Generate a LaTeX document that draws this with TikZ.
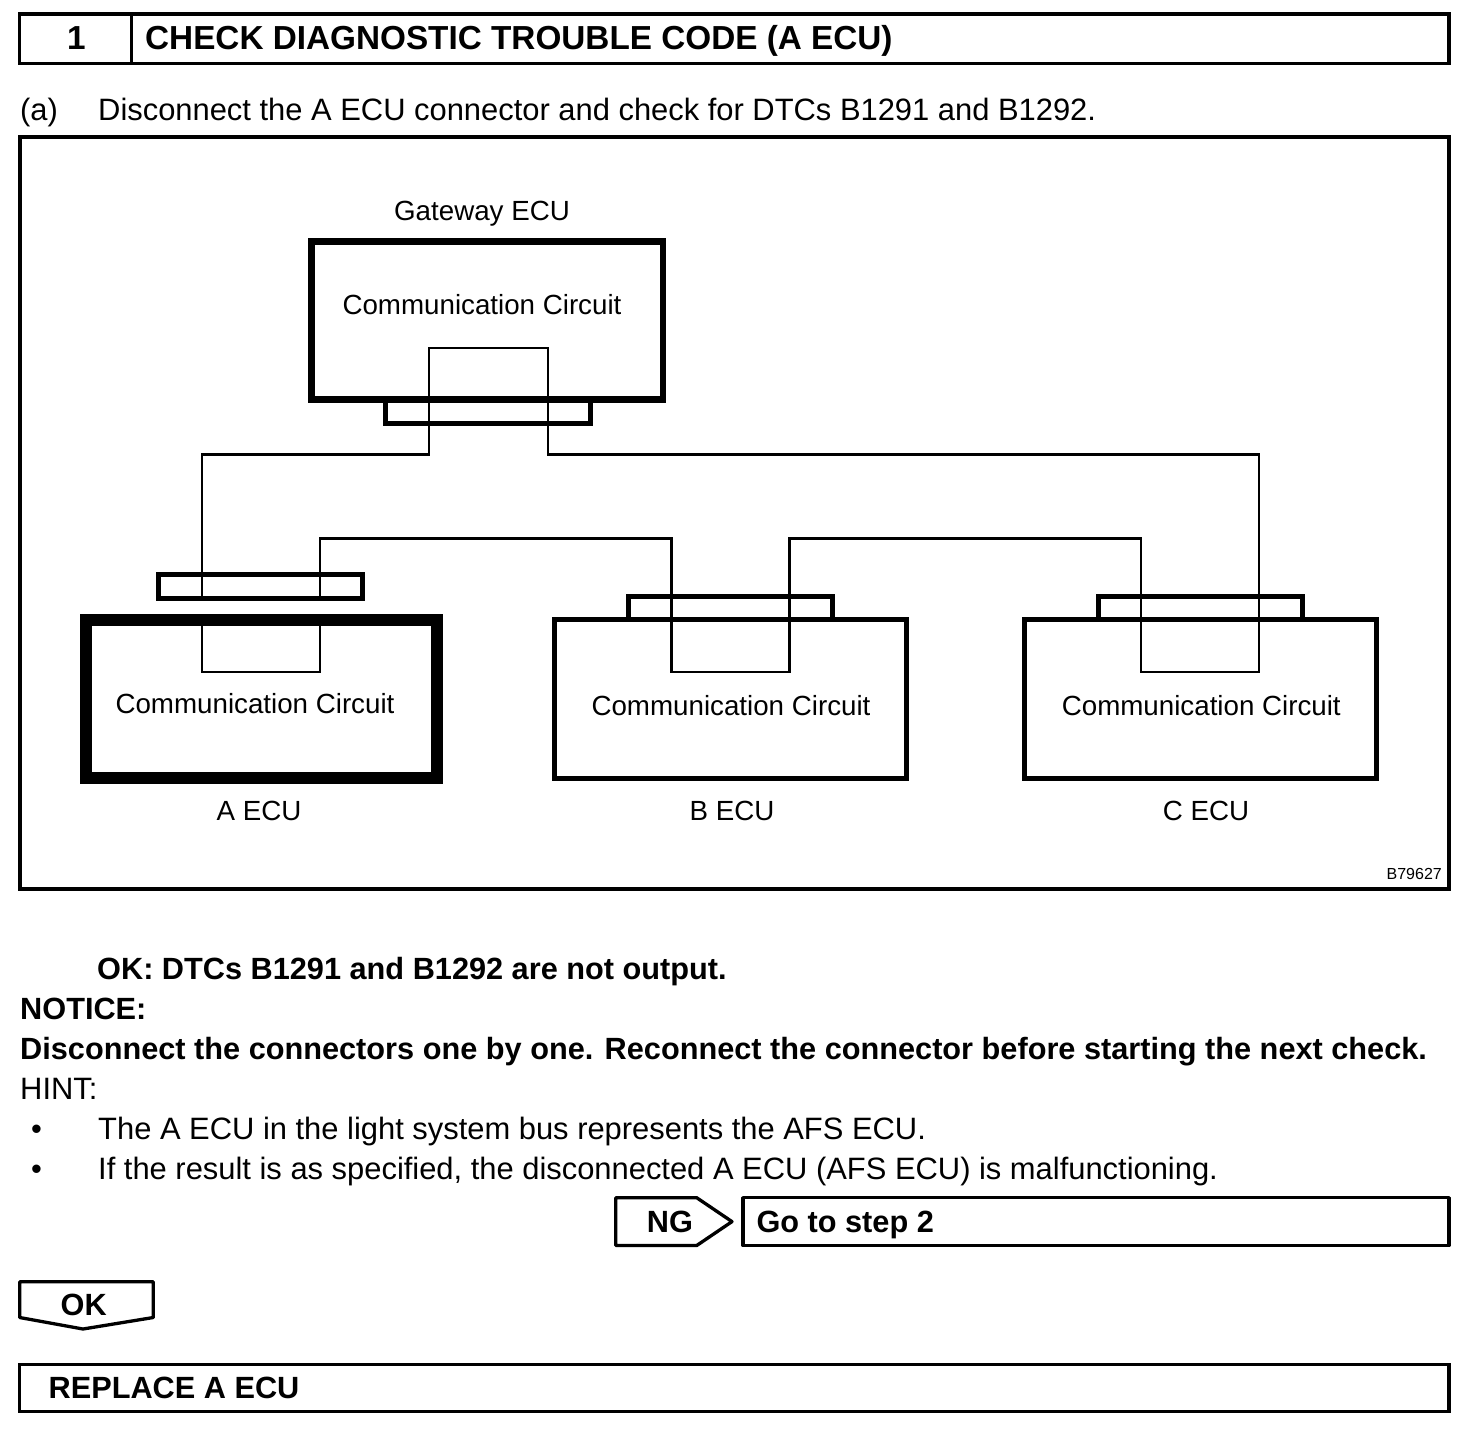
\documentclass[tikz,border=0pt]{standalone}
\usepackage{fontspec}
\setmainfont{Liberation Sans}
\begin{document}
\begin{tikzpicture}[x=1pt,y=-1pt,
  frame/.style={draw=black,line width=3.3pt},
  panel/.style={draw=black,line width=3.6pt},
  flag/.style={draw=black,line width=3.3pt,line join=round},
  wire/.style={draw=black,line width=2.5pt},
  conn/.style={draw=black,line width=4.6pt},
  gwbox/.style={draw=black,line width=6.5pt},
  abox/.style={draw=black,line width=11.6pt},
  ecu/.style={draw=black,line width=5pt},
  txt/.style={inner sep=0pt,anchor=base west,font=\fontsize{30.9}{32}\selectfont},
  btxt/.style={txt,font=\fontsize{30.7}{32}\selectfont\bfseries},
  ttl/.style={txt,font=\fontsize{33.3}{34}\selectfont\bfseries},
  lab/.style={inner sep=0pt,anchor=base,font=\fontsize{27.73}{32}\selectfont},
]
\useasboundingbox (0,0) rectangle (1472,1430);
\fill[white] (0,0) rectangle (1472,1430);
% header
\draw[frame] (19.7,14) rectangle (1449,63.5);
\draw[frame] (131.7,14) -- (131.7,63.5);
\node[ttl,anchor=base] (num) at (76.5,49.8) {1};
\node[ttl] (title) at (145,49.8) {CHECK DIAGNOSTIC TROUBLE CODE (A ECU)};
\node[txt] (a) at (20,120.3) {(a)};
\node[txt] (adesc) at (98,120.3) {Disconnect the A ECU connector and check for DTCs B1291 and B1292.};
% diagram frame
\draw[panel] (19.7,137) rectangle (1449,888.7);
\node[lab] (gwl) at (482,220.3) {Gateway ECU};
% wire corners
\coordinate (gl) at (429,348); \coordinate (gr) at (548,348);
\coordinate (gla) at (429,454.5); \coordinate (gra) at (548,454.5);
\coordinate (al) at (202,454.5); \coordinate (cr) at (1259,454.5);
\coordinate (acl) at (202,598.5); \coordinate (acr) at (320,598.5);
\coordinate (ael) at (202,620); \coordinate (aer) at (320,620);
\coordinate (alb) at (202,672); \coordinate (arb) at (320,672);
\coordinate (art) at (320,538.5); \coordinate (blt) at (671.7,538.5);
\coordinate (blb) at (671.7,672); \coordinate (brb) at (789.7,672);
\coordinate (brt) at (789.7,538.5); \coordinate (clt) at (1141,538.5);
\coordinate (clb) at (1141,672); \coordinate (crb) at (1259,672);
% boxes
\draw[gwbox] (311.5,241.7) rectangle (663.2,399.5);
\draw[conn] (385.7,399.5) -- (385.7,423.2) -- (590.3,423.2) -- (590.3,399.5);
\draw[conn] (158.5,574.5) rectangle (362.5,598.5);
\draw[abox] (85.7,620) rectangle (437.2,778);
\draw[conn] (628.7,619.4) -- (628.7,596.5) -- (832.6,596.5) -- (832.6,619.4);
\draw[ecu] (554.7,619.4) rectangle (906.3,778);
\draw[conn] (1098.7,619.4) -- (1098.7,596.5) -- (1302.6,596.5) -- (1302.6,619.4);
\draw[ecu] (1024.7,619.4) rectangle (1376.3,778);
% wires
\draw[wire] (acl) -- (al) -- (gla) -- (gl) -- (gr) -- (gra) -- (cr) -- (crb) -- (clb) -- (clt) -- (brt) -- (brb) -- (blb) -- (blt) -- (art) -- (acr);
\draw[wire] (ael) -- (alb) -- (arb) -- (aer);
% labels
\node[lab] (c0) at (482,314) {Communication Circuit};
\node[lab] (c1) at (255,713.3) {Communication Circuit};
\node[lab] (c2) at (731,715.3) {Communication Circuit};
\node[lab] (c3) at (1201.3,715.3) {Communication Circuit};
\node[lab] (la) at (259,820) {A ECU};
\node[lab] (lb) at (732,820) {B ECU};
\node[lab] (lc) at (1206,820) {C ECU};
\node[inner sep=0pt,anchor=base east,font=\fontsize{16}{16}\selectfont] (code) at (1442,879) {B79627};
% text
\node[btxt] (ok) at (97,979.3) {OK: DTCs B1291 and B1292 are not output.};
\node[btxt] (no) at (20,1019.3) {NOTICE:};
\node[btxt] (dis) at (20,1059.3) {Disconnect the connectors one by one. Reconnect the connector before starting the next check.};
\node[txt] (hint) at (20,1099.3) {HINT:};
\node[txt] (b1) at (31,1139.3) {•};
\node[txt] (t1) at (98,1139.3) {The A ECU in the light system bus represents the AFS ECU.};
\node[txt] (b2) at (31,1179.3) {•};
\node[txt] (t2) at (98,1179.3) {If the result is as specified, the disconnected A ECU (AFS ECU) is malfunctioning.};
% NG
\draw[flag] (615.7,1197.7) -- (696.7,1197.7) -- (732,1221.6) -- (696.7,1245.5) -- (615.7,1245.5) -- cycle;
\node[btxt,anchor=base] (ng) at (670,1232.7) {NG};
\draw[flag] (743,1197.7) rectangle (1449,1245.5);
\node[btxt] (go) at (756.3,1232.7) {Go to step 2};
% OK
\draw[flag] (19.7,1281.7) -- (153.3,1281.7) -- (153.3,1317.5) -- (83,1329) -- (19.7,1317.5) -- cycle;
\node[btxt,anchor=base] (okb) at (83.7,1315) {OK};
% replace
\draw[frame] (19.7,1364.5) rectangle (1449,1411.5);
\node[btxt] (rep) at (48.5,1398.6) {REPLACE A ECU};
\end{tikzpicture}
\end{document}
